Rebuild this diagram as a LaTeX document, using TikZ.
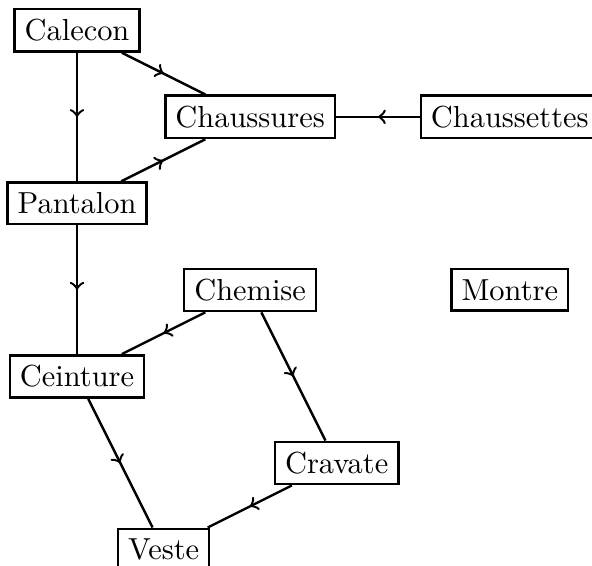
\documentclass[tikz,border=0pt]{standalone}
\usetikzlibrary{decorations.markings}
\begin{document}
\begin{tikzpicture}[
  item/.style={draw,thick,fill=white},
  dep/.style={thick,decoration={markings,mark=at position 0.5 with {\arrow{>}}},
              postaction={decorate}}]
\useasboundingbox (-0.89,0.35) rectangle (5.95,-6.18);
\node[item] (calecon) at (0,0) {Calecon};
\node[item] (chaussures) at (2,-1) {Chaussures};
\node[item] (chaussettes) at (5,-1) {Chaussettes};
\node[item] (pantalon) at (0,-2) {Pantalon};
\node[item] (chemise) at (2,-3) {Chemise};
\node[item] (montre) at (5,-3) {Montre};
\node[item] (ceinture) at (0,-4) {Ceinture};
\node[item] (cravate) at (3,-5) {Cravate};
\node[item] (veste) at (1,-6) {Veste};
\draw[dep] (calecon) -- (pantalon);
\draw[dep] (calecon) -- (chaussures);
\draw[dep] (chaussettes) -- (chaussures);
\draw[dep] (pantalon) -- (chaussures);
\draw[dep] (pantalon) -- (ceinture);
\draw[dep] (chemise) -- (ceinture);
\draw[dep] (chemise) -- (cravate);
\draw[dep] (ceinture) -- (veste);
\draw[dep] (cravate) -- (veste);
\end{tikzpicture}
\end{document}
